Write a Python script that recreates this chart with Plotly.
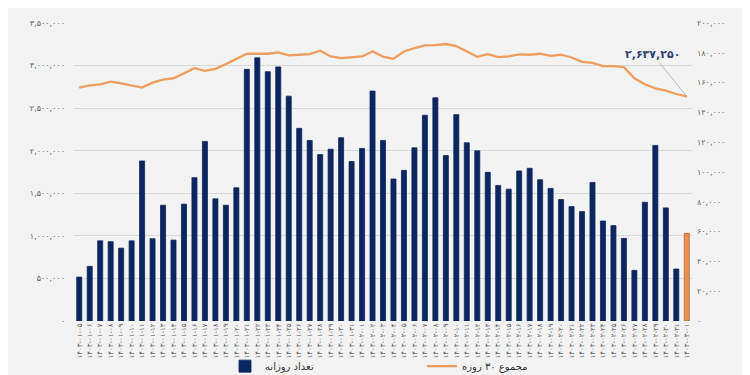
import plotly.graph_objects as go

FA = str.maketrans("0123456789", "۰۱۲۳۴۵۶۷۸۹")

dates = [
    "1403-01-05", "1403-01-06", "1403-01-07", "1403-01-08", "1403-01-09", "1403-01-10",
    "1403-01-11", "1403-01-12", "1403-01-13", "1403-01-14", "1403-01-15", "1403-01-16",
    "1403-01-17", "1403-01-18", "1403-01-19", "1403-01-20", "1403-01-21", "1403-01-22",
    "1403-01-23", "1403-01-24", "1403-01-25", "1403-01-26", "1403-01-27", "1403-01-28",
    "1403-01-29", "1403-01-30", "1403-01-31", "1403-02-01", "1403-02-02", "1403-02-03",
    "1403-02-04", "1403-02-05", "1403-02-06", "1403-02-07", "1403-02-08", "1403-02-09",
    "1403-02-10", "1403-02-11", "1403-02-12", "1403-02-13", "1403-02-14", "1403-02-15",
    "1403-02-16", "1403-02-17", "1403-02-18", "1403-02-19", "1403-02-20", "1403-02-21",
    "1403-02-22", "1403-02-23", "1403-02-24", "1403-02-25", "1403-02-26", "1403-02-27",
    "1403-02-28", "1403-02-29", "1403-02-30", "1403-02-31", "1403-03-01",
]

daily = [29500, 36700, 53800, 53200, 48900, 53800, 107400, 55200, 77700, 54300,
         78400, 96200, 120500, 82000, 77700, 89400, 168900, 176600, 167300, 170500,
         150900, 129300, 121200, 111700, 115300, 123000, 107000, 115800, 154300, 121200,
         95300, 101100, 116200, 138100, 149800, 111000, 138500, 119600, 114200, 99800,
         91000, 88500, 100700, 102500, 94800, 89000, 81500, 76800, 73400, 93000,
         67100, 64000, 55400, 34000, 79700, 117800, 75900, 34900, 58800]

rolling = [2741000, 2768000, 2780000, 2811000, 2792000, 2768000, 2741000, 2800000, 2835000, 2851000,
           2910000, 2969000, 2938000, 2961000, 3017000, 3080000, 3139000, 3139000, 3139000, 3155000,
           3119000, 3127000, 3135000, 3174000, 3107000, 3088000, 3095000, 3107000, 3166000, 3105000,
           3080000, 3166000, 3206000, 3237000, 3241000, 3253000, 3229000, 3166000, 3103000, 3135000,
           3099000, 3107000, 3131000, 3127000, 3139000, 3115000, 3127000, 3095000, 3044000, 3032000,
           2993000, 2993000, 2981000, 2851000, 2780000, 2733000, 2705000, 2666000, 2637250]

left_ticks = [0, 500000, 1000000, 1500000, 2000000, 2500000, 3000000, 3500000]
right_ticks = [0, 20000, 40000, 60000, 80000, 100000, 120000, 140000, 160000, 180000, 200000]

bar_name = "تعداد روزانه"
line_name = "مجموع ۳۰ روزه"

labels = [d.translate(FA) for d in dates]
NAVY = "#0c2660"
ORANGE_LINE = "#ef9d5e"
bar_colors = [NAVY] * (len(daily) - 1) + ["#e8904c"]
bar_lines = [NAVY] * (len(daily) - 1) + ["#b8652a"]

fig = go.Figure()
fig.add_trace(go.Bar(
    x=labels, y=daily, name=bar_name, yaxis="y2",
    marker=dict(color=bar_colors, line=dict(color=bar_lines, width=0.8)),
))
fig.add_trace(go.Scatter(
    x=labels, y=rolling, name=line_name, yaxis="y", mode="lines",
    line=dict(color=ORANGE_LINE, width=2.3),
))

fig.add_annotation(
    x=labels[-1], y=rolling[-1], xref="x", yref="y",
    text="<b>" + f"{rolling[-1]:,}".translate(FA) + "</b>",
    showarrow=True, arrowhead=0, arrowwidth=0.8, arrowcolor="#a8a8a8",
    ax=-34, ay=-42, font=dict(size=11, color="#2d4373", family="DejaVu Sans"),
)

fig.update_layout(
    width=750, height=375,
    margin=dict(l=66, r=66, t=15, b=62),
    paper_bgcolor="#f3f3f3", plot_bgcolor="rgba(0,0,0,0)",
    font=dict(family="DejaVu Sans", color="#555555"),
    bargap=0.52,
    showlegend=True,
    legend=dict(orientation="h", xref="container", yref="container",
                x=0.552, xanchor="center", y=0.045, yanchor="middle",
                entrywidth=152, entrywidthmode="pixels",
                font=dict(size=10, color="#333333"), bgcolor="rgba(0,0,0,0)"),
    xaxis=dict(type="category", tickangle=-90, tickfont=dict(size=7, color="#555555"),
               showgrid=False, showline=False, ticks="", ticklen=0, automargin=False),
    yaxis=dict(range=[0, 3500000], tickvals=left_ticks,
               ticktext=[f"{v:,}".translate(FA) for v in left_ticks],
               tickfont=dict(size=8, color="#666666"), showgrid=True, gridcolor="#d9d9d9",
               gridwidth=1, zeroline=False, ticks="", ticklabelstandoff=8, automargin=False),
    yaxis2=dict(range=[0, 200000], overlaying="y", side="right", tickvals=right_ticks,
                ticktext=[f"{v:,}".translate(FA) for v in right_ticks],
                tickfont=dict(size=8, color="#666666"), showgrid=False, zeroline=False,
                ticks="", ticklabelstandoff=4, automargin=False),
)

fig.write_html("out.html")
